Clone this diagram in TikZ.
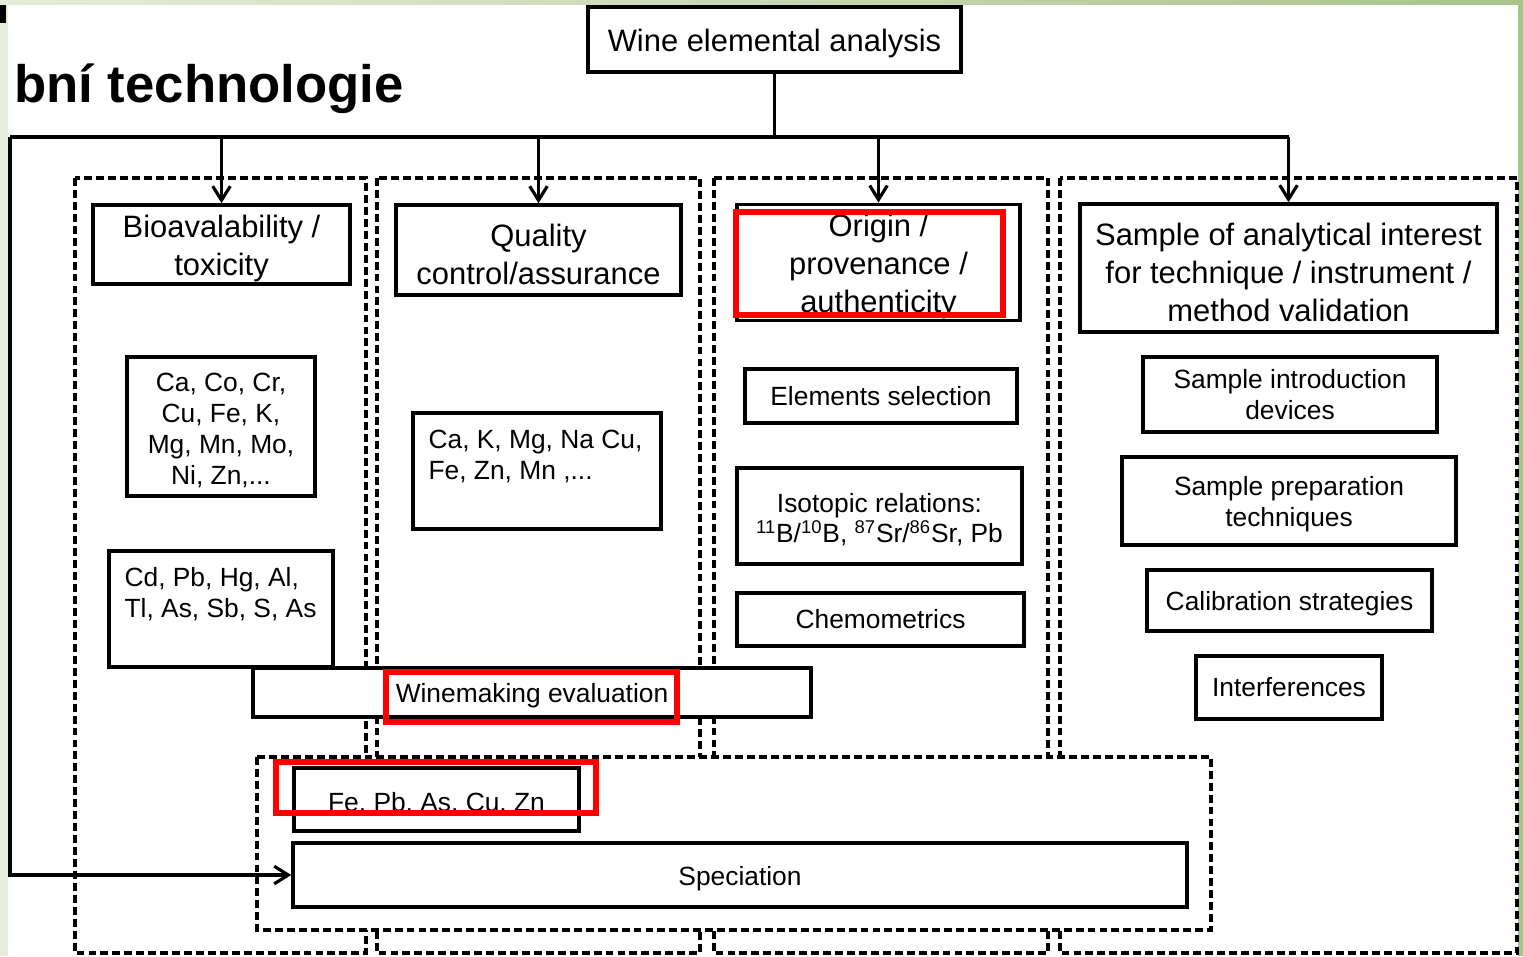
\documentclass[tikz,border=0pt]{standalone}
\usepackage{fontspec}
\setmainfont{Liberation Sans}
\usepackage{tikz}
\usetikzlibrary{arrows.meta,positioning}

\definecolor{slidepale}{HTML}{E6ECDA}
\definecolor{slidegreen}{HTML}{A9C38A}
\newcommand\headtxt{\fontsize{17.6pt}{21.5pt}\selectfont}
\newcommand\smalltxt{\fontsize{15pt}{17.6pt}\selectfont}
\newcommand\titletxt{\fontsize{30pt}{36pt}\selectfont\bfseries}
\newcommand\tallstrut{\rule{0pt}{1em}}
\tikzset{wh/.style 2 args={minimum width=#1*0.02cm,minimum height=#2*0.02cm},
  box/.style={draw,line width=2pt,fill=white,align=center,inner sep=1pt,font=\smalltxt},
  headbox/.style={box,font=\headtxt},
  col/.style={draw,line width=1.9pt,dash pattern=on 4.5pt off 2.3pt},
  hilite/.style={draw=red,line width=3.4pt},
  link/.style={line width=1.8pt,>={Straight Barb[length=8pt,width=10pt]}},
  tl/.style={anchor=north west,align=left,inner sep=0pt,font=\smalltxt}}

\begin{document}
\begin{tikzpicture}
    \tikzset{x=0.02cm,y=-0.02cm}
    \useasboundingbox (0,0) rectangle (1523,956);
    % slide frame
    \fill[slidepale] (0,0) rectangle (8,956);
    \shade[left color=slidepale,right color=slidegreen] (0,0) rectangle (1523,5);
    \fill[slidegreen] (1518,0) rectangle (1523,956);
    \fill[black] (0,5) rectangle (6,23);
    \node[anchor=base east,inner sep=0pt,font=\titletxt] (title) at (404,103) {bní technologie};
    % dashed columns
    \draw[col] (75,178) rectangle (366,953);
    \draw[col] (377,178) rectangle (700,953);
    \draw[col] (714,178) rectangle (1048,953);
    \draw[col] (1060,178) rectangle (1517,953);
    \node[headbox,wh={373}{65}] (wine) at (774.5,39.5) {\tallstrut Wine elemental analysis};
    \node[headbox,wh={257}{79}] (bio) at (221.5,244.5) {\tallstrut Bioavalability /\\toxicity};
    \node[headbox,wh={285}{90}] (qual) at (538.5,250) {\tallstrut Quality\\control/assurance};
    \node[headbox,wh={283}{115}] (orig) at (878.5,262.5) {\tallstrut Origin /\\provenance /\\authenticity};
    \node[headbox,wh={417}{128}] (samp) at (1288.5,268) {\tallstrut Sample of analytical interest\\for technique / instrument /\\method validation};
    \node[box,wh={188}{139}] (bioel) at (221,426.5) {\tallstrut Ca, Co, Cr,\\Cu, Fe, K,\\Mg, Mn, Mo,\\Ni, Zn,...};
    \node[box,wh={224}{116},label={[tl,xshift=0.34cm,yshift=-0.36cm]north west:{Cd, Pb, Hg, Al,\\Tl, As, Sb, S, As}}] (toxel) at (221,609) {};
    \node[box,wh={248}{116},label={[tl,xshift=0.34cm,yshift=-0.38cm]north west:{Ca, K, Mg, Na Cu,\\Fe, Zn, Mn ,...}}] (qualel) at (537,471) {};
    \node[box,wh={272}{54}] (elsel) at (881,396) {Elements selection};
    \node[box,wh={285}{96}] (iso) at (879.5,516) {\tallstrut Isotopic relations:\\\textsuperscript{11}B/\textsuperscript{10}B, \textsuperscript{87}Sr/\textsuperscript{86}Sr, Pb};
    \node[box,wh={287}{53}] (chemo) at (880.5,619.5) {Chemometrics};
    \node[box,wh={294}{75}] (intro) at (1290,394.5) {Sample introduction\\devices};
    \node[box,wh={334}{88}] (prep) at (1289,501) {\tallstrut Sample preparation\\techniques};
    \node[box,wh={285}{61}] (calib) at (1289.5,600.5) {\tallstrut Calibration strategies};
    \node[box,wh={186}{63}] (interf) at (1289,687.5) {Interferences};
    \node[box,wh={558}{49}] (winem) at (532,692.5) {\tallstrut Winemaking evaluation};
    % speciation group
    \draw[col,fill=white] (257,757) rectangle (1211,930);
    \node[box,wh={285}{63}] (feel) at (436.5,799.5) {\tallstrut Fe, Pb, As, Cu, Zn};
    \node[box,wh={894}{64}] (spec) at (740,875) {\tallstrut Speciation};
    % connectors
    \coordinate (hub) at (wine.south |- 0,137);
    \coordinate (lft) at (10,137);
    \draw[link] (wine) -- (hub);
    \draw[link] (lft) -- (hub -| samp);
    \foreach \n in {bio,qual,orig,samp}
      \draw[link,->] (hub -| \n) -- (\n);
    \draw[link,->] (lft) |- (spec);
    % red marks
    \draw[hilite] (736,212) rectangle (1003,315);
    \draw[hilite] (386,672) rectangle (677,722);
    \draw[hilite] (276,762) rectangle (596,813);
\end{tikzpicture}
\end{document}
